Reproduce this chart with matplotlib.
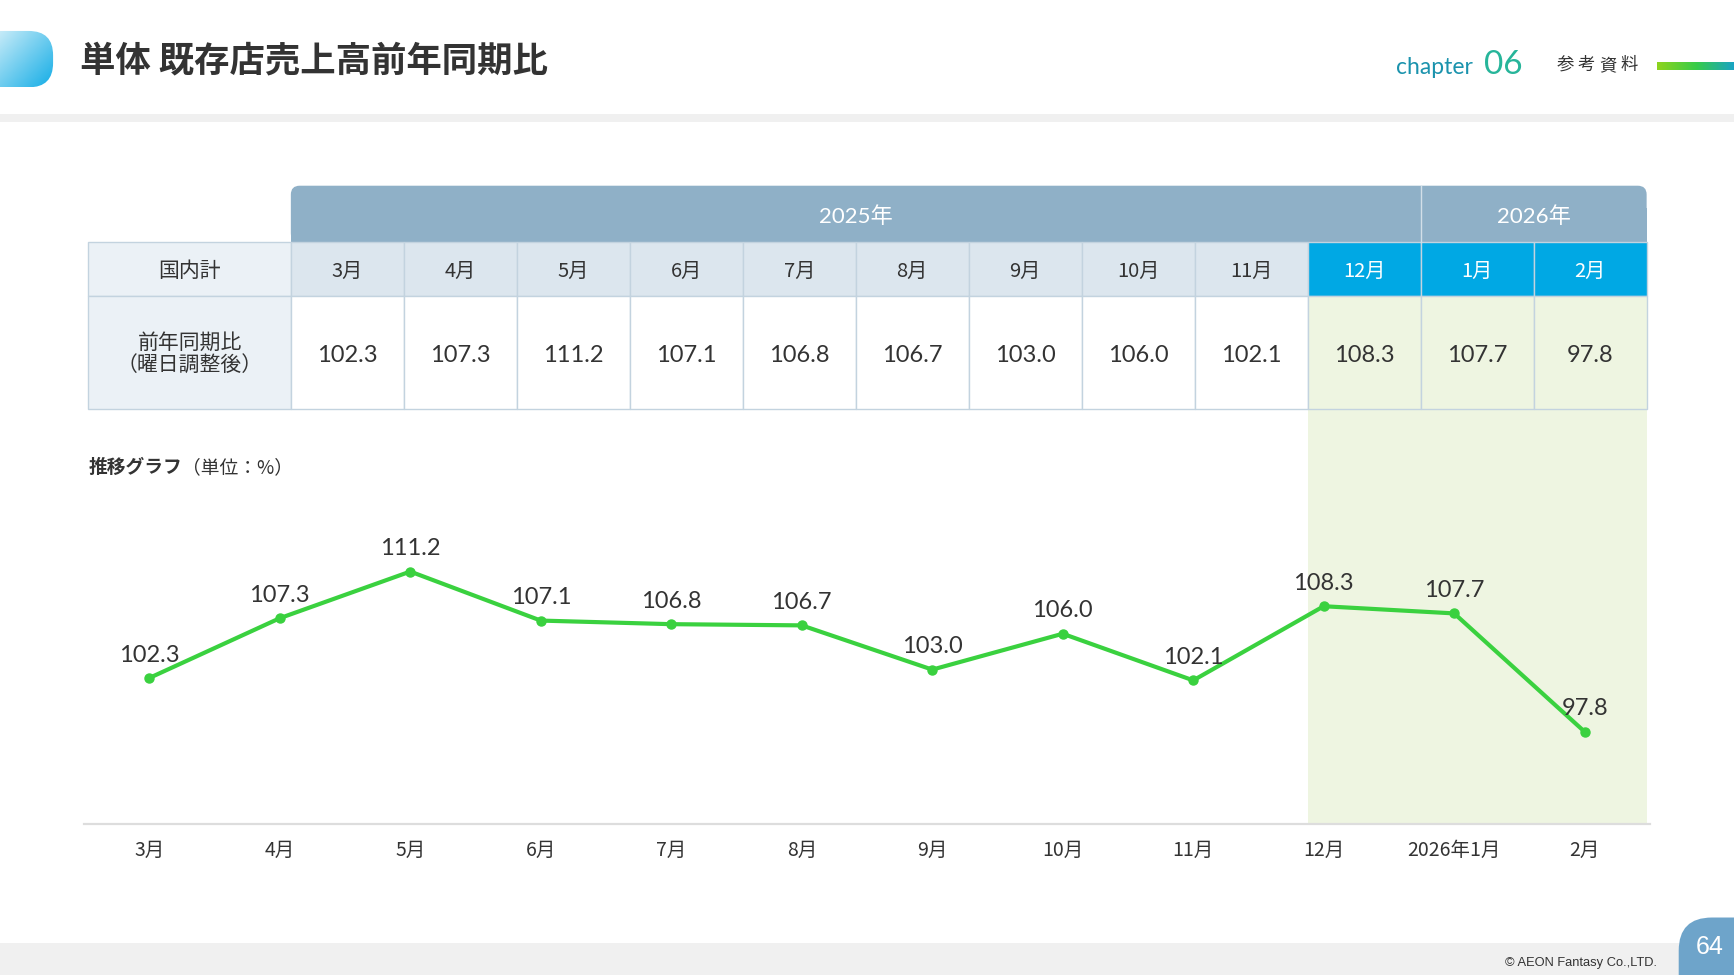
import matplotlib
matplotlib.use('agg')
import matplotlib.pyplot as plt
from matplotlib.patches import Rectangle, FancyBboxPatch
from matplotlib.colors import LinearSegmentedColormap
import numpy as np

plt.rcParams['font.family'] = ['Noto Sans CJK JP', 'DejaVu Sans']
NUMFONT = ['Lato', 'Noto Sans CJK JP']

# データ
months = ['3月', '4月', '5月', '6月', '7月', '8月', '9月', '10月', '11月', '12月', '1月', '2月']
axis_labels = ['3月', '4月', '5月', '6月', '7月', '8月', '9月', '10月', '11月', '12月', '2026年1月', '2月']
values = [102.3, 107.3, 111.2, 107.1, 106.8, 106.7, 103.0, 106.0, 102.1, 108.3, 107.7, 97.8]
years = ['2025年', '2026年']
year_span = [10, 2]
hl_from = 9  # 12月から強調

TXT = '#333333'
W, H = 1568, 882  # layout units (scaled to 1734x975)

fig = plt.figure(figsize=(17.34, 9.75), dpi=100)
bg = fig.add_axes([0, 0, 1, 1])
bg.set_xlim(0, W)
bg.set_ylim(H, 0)
bg.axis('off')

# ---- header ----
tab = FancyBboxPatch((-40, 28), 88, 51, boxstyle='round,pad=0,rounding_size=22',
                     fc='none', ec='none')
bg.add_patch(tab)
cm_tab = LinearSegmentedColormap.from_list('tab', ['#c6ebf8', '#14ade6'])
gx, gy = np.meshgrid(np.linspace(0, 1, 50), np.linspace(0, 1, 50))
im = bg.imshow((gx + gy) / 2, cmap=cm_tab, extent=(0, 48, 79, 28), aspect='auto')
im.set_clip_path(tab)

bg.text(72, 55, '単体 既存店売上高前年同期比', fontsize=25.5, fontweight='bold',
        color=TXT, va='center', ha='left')

bg.text(1262, 61, 'chapter', fontsize=16.5, color='#1b93ad', family=NUMFONT,
        va='center', ha='left')
bg.text(1342, 59, '06', fontsize=24, color='#27b59a', family=NUMFONT,
        va='center', ha='left')
for i, ch in enumerate('参考資料'):
    bg.text(1408 + i * 19, 59, ch, fontsize=12.5, color=TXT, va='center', ha='left')
cm_bar = LinearSegmentedColormap.from_list('bar', ['#8ed41e', '#38cc48', '#19a3c6'])
bg.imshow(np.linspace(0, 1, 100).reshape(1, -1), cmap=cm_bar,
          extent=(1498, W, 63, 56), aspect='auto')
bg.add_patch(Rectangle((0, 103), W, 7, fc='#f0f0f0', ec='none'))

# ---- table ----
x0, lab_w = 80, 183
tx = x0 + lab_w
col_w = (1489 - tx) / 12
y_year, y_mon, y_val, y_end = 168, 219, 268, 370
edge = '#c3d3df'

bg.add_patch(FancyBboxPatch((tx, y_year), col_w * 12, y_mon - y_year,
                            boxstyle='round,pad=0,rounding_size=8', fc='#8fb0c7', ec='none'))
bg.add_patch(Rectangle((tx, y_year + 20), col_w * 12, y_mon - y_year - 20, fc='#8fb0c7', ec='none'))
start = 0
for yl, span in zip(years, year_span):
    cx = tx + (start + span / 2) * col_w
    bg.text(cx, (y_year + y_mon) / 2 + 2, yl, fontsize=16, color='white', family=NUMFONT,
            ha='center', va='center')
    if start > 0:
        bg.plot([tx + start * col_w] * 2, [y_year, y_mon], color='#d3dfe8', lw=1)
    start += span

bg.add_patch(Rectangle((x0, y_mon), lab_w, y_val - y_mon, fc='#ebf1f6', ec=edge, lw=1))
bg.add_patch(Rectangle((x0, y_val), lab_w, y_end - y_val, fc='#ebf1f6', ec=edge, lw=1))
bg.text(x0 + lab_w / 2, (y_mon + y_val) / 2 + 2, '国内計', fontsize=15, color=TXT,
        ha='center', va='center')
bg.text(x0 + lab_w / 2, (y_val + y_end) / 2 + 1, '前年同期比\n（曜日調整後）', fontsize=15,
        color=TXT, ha='center', va='center', linespacing=1.0)

for i, (m, v) in enumerate(zip(months, values)):
    hl = i >= hl_from
    cx = tx + i * col_w
    bg.add_patch(Rectangle((cx, y_mon), col_w, y_val - y_mon,
                           fc='#00a8e4' if hl else '#dce6ee', ec=edge, lw=1))
    bg.add_patch(Rectangle((cx, y_val), col_w, y_end - y_val,
                           fc='#eef5e1' if hl else 'white', ec=edge, lw=1))
    bg.text(cx + col_w / 2, (y_mon + y_val) / 2 + 2, m, fontsize=14.5,
            color='white' if hl else TXT, ha='center', va='center')
    bg.text(cx + col_w / 2, (y_val + y_end) / 2 + 3, f'{v:.1f}', fontsize=17,
            color=TXT, family=NUMFONT, ha='center', va='center')

# 強調帯（グラフ部分）
bg.add_patch(Rectangle((tx + hl_from * col_w, y_end), col_w * (12 - hl_from), 745 - y_end,
                       fc='#eef5e1', ec='none', zorder=0))

t1 = bg.text(80, 423, '推移グラフ', fontsize=13.5, fontweight='bold', color=TXT,
             ha='left', va='center')
bg.annotate('（単位：%）', xy=(1, 0.5), xycoords=t1, va='center', ha='left',
            fontsize=13.5, color=TXT)

# ---- footer ----
bg.add_patch(Rectangle((0, 853), W, 29, fc='#f0f0f0', ec='none'))
bg.text(1498, 871, '© AEON Fantasy Co.,LTD.', fontsize=9.3, color=TXT,
        family=['Liberation Sans'], ha='right', va='center')
bg.add_patch(FancyBboxPatch((1518, 830), 90, 90, boxstyle='round,pad=0,rounding_size=30',
                            fc='#6ea4ca', ec='none'))
bg.text(1546, 857, '64', fontsize=18, color='white', family=['Liberation Sans'],
        ha='center', va='center')

# ---- line chart ----
ax = fig.add_axes([76 / W, (H - 745) / H, 1416 / W, (745 - 448) / H])
ax.set_facecolor('none')
x = np.arange(len(values))
ax.plot(x, values, color='#3ad13f', lw=3, marker='o', ms=6.5, solid_joinstyle='round')
for xi, v in zip(x, values):
    ax.annotate(f'{v:.1f}', (xi, v), xytext=(0, 16.5), textcoords='offset points',
                ha='center', va='center', fontsize=17, color=TXT, family=NUMFONT)
ax.set_xlim(-0.5, 11.5)
ax.set_ylim(90.13, 117.58)
ax.set_xticks(x)
ax.set_xticklabels(axis_labels, fontsize=14, color=TXT)
ax.tick_params(axis='x', length=0, pad=12)
ax.set_yticks([])
for s in ['top', 'left', 'right']:
    ax.spines[s].set_visible(False)
ax.spines['bottom'].set_color('#dddddd')
ax.spines['bottom'].set_linewidth(1.6)

fig.savefig('out.png', dpi=100)
